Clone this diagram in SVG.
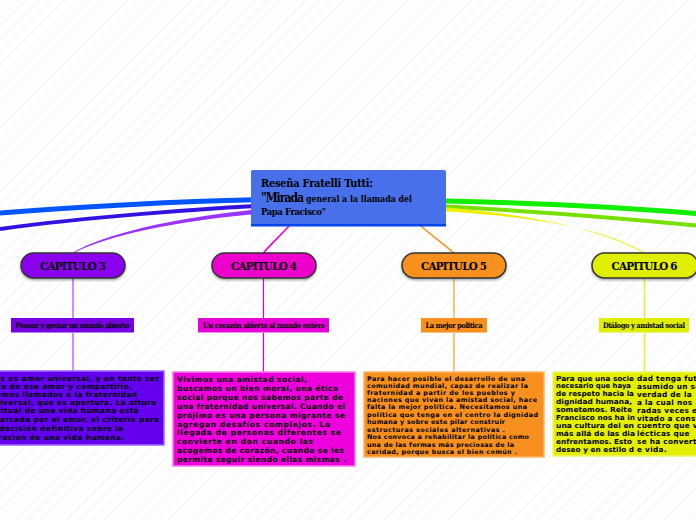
<svg xmlns="http://www.w3.org/2000/svg" width="696" height="520" viewBox="0 0 696 520">
<defs>
<pattern id="stripes" width="9" height="9" patternUnits="userSpaceOnUse" patternTransform="rotate(45)">
<line x1="0" y1="0" x2="0" y2="9" stroke="#f3f3f3" stroke-width="2"/>
</pattern>
<filter id="sh" x="-10%" y="-20%" width="120%" height="160%">
<feDropShadow dx="0" dy="1.5" stdDeviation="1" flood-color="#000" flood-opacity="0.35"/>
</filter>
</defs>
<style>
.slab{font-family:"DejaVu Serif Condensed","DejaVu Serif","Liberation Serif",serif;font-weight:bold;fill:#000}
.pill{stroke:#333;stroke-width:1.5}
.pt{font-family:"DejaVu Serif Condensed","DejaVu Serif","Liberation Serif",serif;font-weight:bold;font-size:11.5px;text-anchor:middle;fill:#000}
.lbl{font-family:"DejaVu Serif Condensed","DejaVu Serif",serif;font-weight:bold;font-size:7.5px;text-anchor:middle;fill:#000}
.body{font-family:"DejaVu Sans","Liberation Sans",sans-serif;font-weight:bold;fill:#000}
.conn{fill:none}
</style>
<rect width="696" height="520" fill="#fff"/>
<rect width="696" height="520" fill="url(#stripes)"/>

<g id="connectors">
<path class="conn" d="M300,199 C200,200 90,206 0,213" stroke="#0055ff" stroke-width="5"/>
<path class="conn" d="M300,204 C200,208 80,218 0,229" stroke="#3311e0" stroke-width="4"/>
<path d="M300,206 C200,212 108,231 72.5,253 L73.8,253 C112,233 200,216 300,211 Z" fill="#9933ff"/>
<path class="conn" d="M289,226 C280,236 270,245 263.5,253" stroke="#ee00dd" stroke-width="1.6"/>
<path class="conn" d="M400,200 C520,202 620,207 696,213.5" stroke="#11ee00" stroke-width="5"/>
<path class="conn" d="M400,204 C520,210 620,218 696,225.5" stroke="#77e000" stroke-width="4"/>
<path d="M400,204 C520,211 600,228 643.5,253 L644.8,253 C602,226 520,214 400,209 Z" fill="#eeee00"/>
<path class="conn" d="M421,226 C432,236 444,244 453.5,253" stroke="#f7941d" stroke-width="1.6"/>
<line x1="73" y1="278" x2="73" y2="371" stroke="#c266ff" stroke-width="1.5"/>
<line x1="263.5" y1="278" x2="263.5" y2="372" stroke="#dd00cc" stroke-width="1.2"/>
<line x1="454" y1="278" x2="454" y2="372" stroke="#f9b25a" stroke-width="1.5"/>
<line x1="644.5" y1="278" x2="644.5" y2="372" stroke="#e8ee22" stroke-width="1.5"/>
</g>

<g id="title">
<rect x="251" y="170" width="195" height="56" rx="2" fill="#4870ea"/>
<rect x="251" y="224" width="195" height="2.5" fill="#0044ee"/>
<text class="slab" x="261" y="187" font-size="11" textLength="112">Reseña Fratelli Tutti:</text>
<text class="slab" x="261" y="201.5" font-size="12" textLength="43">"Mirada</text>
<text class="slab" x="306" y="201.5" font-size="8.8" textLength="106">general a la llamada del</text>
<text class="slab" x="261" y="215" font-size="9.5" textLength="65">Papa Fracisco"</text>
</g>

<g id="cap3">
<rect class="pill" x="21" y="253" width="104" height="25" rx="12.5" fill="#8a00ee" filter="url(#sh)"/>
<text class="pt" x="73" y="269.5" textLength="66">CAPITULO 3</text>
</g>
<g id="cap4">
<rect class="pill" x="212" y="253" width="104" height="25" rx="12.5" fill="#ee00cc" filter="url(#sh)"/>
<text class="pt" x="264" y="269.5" textLength="66">CAPITULO 4</text>
</g>
<g id="cap5">
<rect class="pill" x="402" y="253" width="104" height="25" rx="12.5" fill="#f7901e" filter="url(#sh)"/>
<text class="pt" x="454" y="269.5" textLength="66">CAPITULO 5</text>
</g>
<g id="cap6">
<rect class="pill" x="592" y="253" width="106" height="25" rx="12.5" fill="#e0ee00" filter="url(#sh)"/>
<text class="pt" x="644.5" y="269.5" textLength="66">CAPITULO 6</text>
</g>

<g id="lbl3">
<rect x="11" y="318" width="123" height="15" fill="#7700e0"/>
<rect x="11" y="332" width="123" height="1" fill="#b27cff"/>
<text class="lbl" x="72.5" y="328" textLength="114">Pensar y gestar un mundo abierto</text>
</g>
<g id="lbl4">
<rect x="198" y="318" width="131" height="15" fill="#e800d8"/>
<rect x="198" y="332" width="131" height="1" fill="#f28cee"/>
<text class="lbl" x="264" y="328" textLength="122">Un corazón abierto al mundo entero</text>
</g>
<g id="lbl5">
<rect x="421" y="318" width="66" height="15" fill="#f7901e"/>
<rect x="421" y="332" width="66" height="1" fill="#fbc27e"/>
<text class="lbl" x="454" y="328" textLength="57">La mejor politica</text>
</g>
<g id="lbl6">
<rect x="599" y="318" width="90" height="15" fill="#e0ee00"/>
<rect x="599" y="332" width="90" height="1" fill="#f0f580"/>
<text class="lbl" x="644" y="328" textLength="82">Diálogo y amistad social</text>
</g>

<g id="text3">
<rect x="-20" y="371" width="184" height="74" fill="#6400ee" stroke="#a066ff" stroke-width="1.5"/>
<g class="body" font-size="7.3" letter-spacing="0.45" text-anchor="end">
<text x="159.5" y="380.5">Dios es amor universal, y en tanto ser</text>
<text x="132.5" y="388.5">parte de ese amor y compartirlo,</text>
<text x="137.5" y="396.5">estamos llamados a la fraternidad</text>
<text x="156.5" y="404.5">universal, que es apertura. La altura</text>
<text x="139" y="412.5">espiritual de una vida humana está</text>
<text x="159.5" y="421.5">marcada por el amor, el criterio para</text>
<text x="123.5" y="430.5">la decisión definitiva sobre la</text>
<text x="124.5" y="439.5">valoración de una vida humana.</text>
</g>
</g>

<g id="text4">
<rect x="173" y="372" width="182" height="94" fill="#ee00dd" stroke="#f27cec" stroke-width="1.5"/>
<g class="body" font-size="7.5">
<text x="177" y="382" textLength="130">Vivimos una amistad social,</text>
<text x="177" y="391" textLength="161">buscamos un bien moral, una ética</text>
<text x="177" y="400" textLength="166">social porque nos sabemos parte de</text>
<text x="177" y="409" textLength="168">una fraternidad universal. Cuando el</text>
<text x="177" y="418" textLength="168">prójimo es una persona migrante se</text>
<text x="177" y="426.5" textLength="153">agregan desafíos complejos. La</text>
<text x="177" y="435" textLength="164">llegada de personas diferentes se</text>
<text x="177" y="444" textLength="136">convierte en don cuando las</text>
<text x="177" y="453" textLength="167">acogemos de corazón, cuando se les</text>
<text x="177" y="462" textLength="169">permite seguir siendo ellas mismas .</text>
</g>
</g>

<g id="text5">
<rect x="364" y="372" width="180" height="85" fill="#f7901e" stroke="#fab468" stroke-width="1.5"/>
<g class="body" font-size="6.4">
<text x="367" y="380.5" textLength="158">Para hacer posible el desarrollo de una</text>
<text x="367" y="387.5" textLength="161">comunidad mundial, capaz de realizar la</text>
<text x="367" y="394.5" textLength="148">fraternidad a partir de los pueblos y</text>
<text x="367" y="401.5" textLength="170">naciones que vivan la amistad social, hace</text>
<text x="367" y="409" textLength="160">falta la mejor política. Necesitamos una</text>
<text x="367" y="416.5" textLength="171">política que tenga en el centro la dignidad</text>
<text x="367" y="424" textLength="138">humana y sobre este pilar construir</text>
<text x="367" y="431.5" textLength="138">estructuras sociales alternativas .</text>
<text x="367" y="439" textLength="162">Nos convoca a rehabilitar la política como</text>
<text x="367" y="446.5" textLength="147">una de las formas más preciosas de la</text>
<text x="367" y="454" textLength="150">caridad, porque busca el bien común .</text>
</g>
</g>

<g id="text6">
<rect x="553" y="372" width="150" height="84" fill="#e4ee00" stroke="#eef570" stroke-width="1.5"/>
<g class="body" font-size="7">
<text x="556" y="380.5" textLength="78" lengthAdjust="spacingAndGlyphs">Para que una socie</text>
<text x="556" y="388.4" textLength="75" lengthAdjust="spacingAndGlyphs">necesario que haya</text>
<text x="556" y="396.3" textLength="78" lengthAdjust="spacingAndGlyphs">de respeto hacia la</text>
<text x="556" y="404.2" textLength="76" lengthAdjust="spacingAndGlyphs">dignidad humana,</text>
<text x="556" y="412.1" textLength="76" lengthAdjust="spacingAndGlyphs">sometemos. Reite</text>
<text x="556" y="420" textLength="79" lengthAdjust="spacingAndGlyphs">Francisco nos ha in</text>
<text x="556" y="427.9" textLength="78" lengthAdjust="spacingAndGlyphs">una cultura del en</text>
<text x="556" y="435.8" textLength="79" lengthAdjust="spacingAndGlyphs">más allá de las dia</text>
<text x="556" y="443.7" textLength="76" lengthAdjust="spacingAndGlyphs">enfrentamos. Esto</text>
<text x="556" y="451.6" textLength="78" lengthAdjust="spacingAndGlyphs">deseo y en estilo d</text>
</g>
<g class="body" font-size="7.3" letter-spacing="0.3">
<text x="637" y="381">dad tenga futuro es</text>
<text x="637" y="388.9">asumido un sentido</text>
<text x="637" y="396.8">verdad de la</text>
<text x="637" y="404.7">a la cual nos</text>
<text x="637" y="412.6">radas veces el Papa</text>
<text x="637" y="420.5">vitado a construir</text>
<text x="637" y="428.4">cuentro que vaya</text>
<text x="637" y="436.3">lécticas que</text>
<text x="637" y="444.2">se ha convertido en</text>
<text x="637" y="452.1">e vida.</text>
</g>
</g>
</svg>
